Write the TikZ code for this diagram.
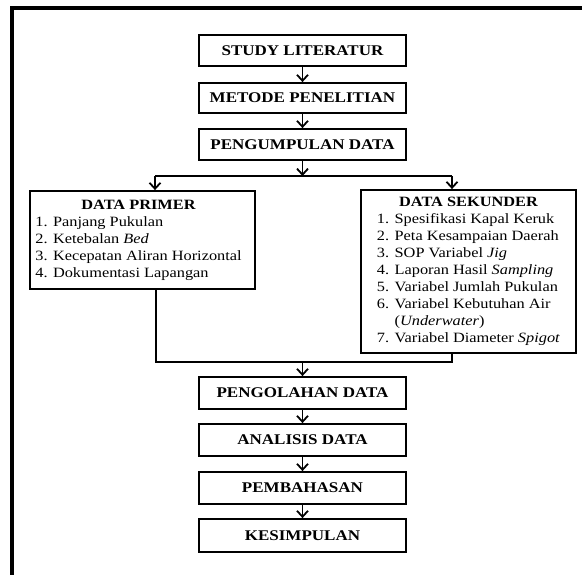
\documentclass[tikz,border=0pt]{standalone}
\usepackage{fontspec}
\setmainfont{Liberation Serif}[
  FakeStretch=1.15,
  UprightFont=*,
  BoldFont=* Bold,
  ItalicFont=* Italic,
  BoldItalicFont=* Bold Italic]
\usetikzlibrary{arrows.meta}
\tikzset{
  mainbox/.style={draw, line width=1.8pt, minimum width=207pt, inner sep=0pt,
    font=\fontsize{14.8}{17}\selectfont\bfseries},
  databox/.style={draw, line width=1.8pt, inner sep=0pt,
    font=\fontsize{14.2}{17}\selectfont},
  conn/.style={line width=1.8pt},
  arr/.style={line width=1.8pt, -{Straight Barb[length=6pt,width=11pt,line width=1.8pt]}},
  frameline/.style={fill=black, draw=none}
}
\begin{document}
\begin{tikzpicture}[x=1pt,y=-1pt]
\useasboundingbox (0,0) rectangle (582,575);
\fill[frameline] (10,6) rectangle (582,10);
\fill[frameline] (10,6) rectangle (14,575);

\node[mainbox, minimum height=31pt] (study) at (302.5,50.5) {STUDY LITERATUR};
\node[mainbox, minimum height=30pt] (metode) at (302.5,98) {METODE PENELITIAN};
\node[mainbox, minimum height=31pt] (kumpul) at (302.5,144.5) {PENGUMPULAN DATA};

\node[databox, minimum width=225pt, minimum height=98pt] (primer) at (142.5,240) {%
\begin{tabular}{@{}l@{}}
\multicolumn{1}{@{}c@{}}{\bfseries DATA PRIMER}\\
1. Panjang Pukulan\\
2. Ketebalan \textit{Bed}\\
3. Kecepatan Aliran Horizontal\\
4. Dokumentasi Lapangan
\end{tabular}\hspace*{8pt}};

\node[databox, minimum width=215pt, minimum height=163pt] (sekunder) at (468.5,271.5) {%
\begin{tabular}{@{}l@{}}
\multicolumn{1}{@{}c@{}}{\bfseries DATA SEKUNDER}\\
1. Spesifikasi Kapal Keruk\\
2. Peta Kesampaian Daerah\\
3. SOP Variabel \textit{Jig}\\
4. Laporan Hasil \textit{Sampling}\\
5. Variabel Jumlah Pukulan\\
6. Variabel Kebutuhan Air\\
\phantom{6. }(\textit{Underwater})\\
7. Variabel Diameter \textit{Spigot}
\end{tabular}};

\node[mainbox, minimum height=32pt] (olah) at (302.5,393) {PENGOLAHAN DATA};
\node[mainbox, minimum height=32pt] (analisis) at (302.5,440) {ANALISIS DATA};
\node[mainbox, minimum height=32pt] (bahas) at (302.5,488) {PEMBAHASAN};
\node[mainbox, minimum height=33pt] (simpul) at (302.5,535.5) {KESIMPULAN};

\coordinate (split) at (302.5,176);
\coordinate (splitL) at (155,176);
\coordinate (splitR) at (452,176);
\coordinate (mergeL) at (156,362);
\coordinate (mergeR) at (452,362);
\coordinate (merge) at (302.5,362);

\draw[arr] (study) -- (metode);
\draw[arr] (metode) -- (kumpul);
\draw[arr] (kumpul) -- (split);
\draw[conn] (splitL) -- (splitR);
\draw[arr] (splitL) -- (splitL |- primer.north);
\draw[arr] (splitR) -- (splitR |- sekunder.north);
\draw[conn] (mergeL |- primer.south) -- (mergeL) -- (mergeR) -- (mergeR |- sekunder.south);
\draw[arr] (merge) -- (olah);
\draw[arr] (olah) -- (analisis);
\draw[arr] (analisis) -- (bahas);
\draw[arr] (bahas) -- (simpul);
\end{tikzpicture}
\end{document}
